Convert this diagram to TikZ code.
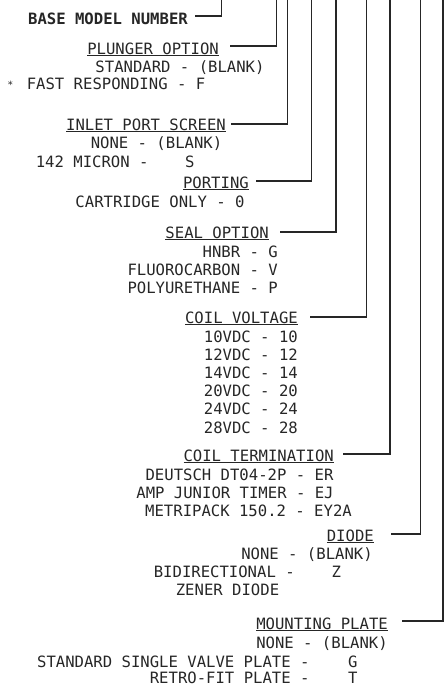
\documentclass[tikz,border=0pt]{standalone}
\usepackage{fontspec}
\newfontfamily\cad{DejaVu Sans Mono}
\begin{document}
\begin{tikzpicture}[x=1pt,y=-1pt,
  txt/.style={inner sep=0pt,font=\cad\fontsize{15.6}{18}\selectfont,text=black!85},
  hdr/.style={txt,anchor=base east},
  itm/.style={txt,anchor=base},
  itmr/.style={txt,anchor=base east},
  conn/.style={draw=black!85,line width=1.1pt}]
\useasboundingbox (0,0) rectangle (444,691);
% top coordinates
\coordinate (t1) at (221.5,0);
\coordinate (t2) at (276.7,0);
\coordinate (t3) at (287.3,0);
\coordinate (t4) at (311.7,0);
\coordinate (t5) at (336,0);
\coordinate (t6) at (366.7,0);
\coordinate (t7) at (390,0);
\coordinate (t8) at (420.7,0);
\coordinate (t9) at (443,0);
% headers
\node[hdr,font=\cad\bfseries\fontsize{15.6}{18}\selectfont] (base) at (188,24) {BASE MODEL NUMBER};
\node[hdr] (plunger) at (219,54) {\underline{PLUNGER OPTION}};
\node[hdr] (inlet) at (226,130) {\underline{INLET PORT SCREEN}};
\node[hdr] (porting) at (249,188) {\underline{PORTING}};
\node[hdr] (seal) at (269,238) {\underline{SEAL OPTION}};
\node[hdr] (coilv) at (298,323) {\underline{COIL VOLTAGE}};
\node[hdr] (coilt) at (334,461) {\underline{COIL TERMINATION}};
\node[hdr] (diode) at (374,541) {\underline{DIODE}};
\node[hdr] (mount) at (388,629) {\underline{MOUNTING PLATE}};
% connectors
\draw[conn] ([shift={(7,-8)}]base.base east) -| (t1);
\draw[conn] ([shift={(11,-8)}]plunger.base east) -| (t2);
\draw[conn] ([shift={(5,-6)}]inlet.base east) -| (t3);
\draw[conn] ([shift={(7,-7)}]porting.base east) -| (t4);
\draw[conn] ([shift={(11,-6)}]seal.base east) -| (t5);
\draw[conn] ([shift={(12,-6)}]coilv.base east) -| (t6);
\draw[conn] ([shift={(9,-7)}]coilt.base east) -| (t7);
\draw[conn] ([shift={(17,-7)}]diode.base east) -| (t8);
\draw[conn] ([shift={(14,-8)}]mount.base east) -| (t9);
% plunger items
\node[itm] (p1) at (180,72) {STANDARD - (BLANK)};
\node[itm] (p2) at (116,89) {FAST RESPONDING - F};
\node[txt,font=\cad\fontsize{10}{12}\selectfont] (ast) at (10.5,85) {*};
% inlet items
\node[itm] (i1) at (156.5,148) {NONE - (BLANK)};
\node[itmr] (i2) at (194.8,167) {142 MICRON -\hspace{36.7pt}S};
% porting
\node[itm] (po1) at (160,207) {CARTRIDGE ONLY - 0};
% seal
\node[itmr] (s1) at (278,257) {HNBR - G};
\node[itmr] (s2) at (278,275) {FLUOROCARBON - V};
\node[itmr] (s3) at (278,293) {POLYURETHANE - P};
% coil voltage
\node[itmr] (v1) at (298,342) {10VDC - 10};
\node[itmr] (v2) at (298,360.2) {12VDC - 12};
\node[itmr] (v3) at (298,378.4) {14VDC - 14};
\node[itmr] (v4) at (298,396.6) {20VDC - 20};
\node[itmr] (v5) at (298,414.8) {24VDC - 24};
\node[itmr] (v6) at (298,433) {28VDC - 28};
% coil termination
\node[itm] (c1) at (239.5,480) {DEUTSCH DT04-2P - ER};
\node[itm] (c2) at (235,498) {AMP JUNIOR TIMER - EJ};
\node[itm] (c3) at (248.5,516) {METRIPACK 150.2 - EY2A};
% diode
\node[itm] (d1) at (307,559) {NONE - (BLANK)};
\node[itmr] (d2) at (341.3,577) {BIDIRECTIONAL -\hspace{37pt}Z};
\node[itm] (d3) at (227.5,595) {ZENER DIODE};
% mounting
\node[itm] (m1) at (322,648) {NONE - (BLANK)};
\node[itmr] (m2) at (357.8,667) {STANDARD SINGLE VALVE PLATE -\hspace{38.7pt}G};
\node[itmr] (m3) at (357.8,683) {RETRO-FIT PLATE -\hspace{38.7pt}T};
\end{tikzpicture}
\end{document}
